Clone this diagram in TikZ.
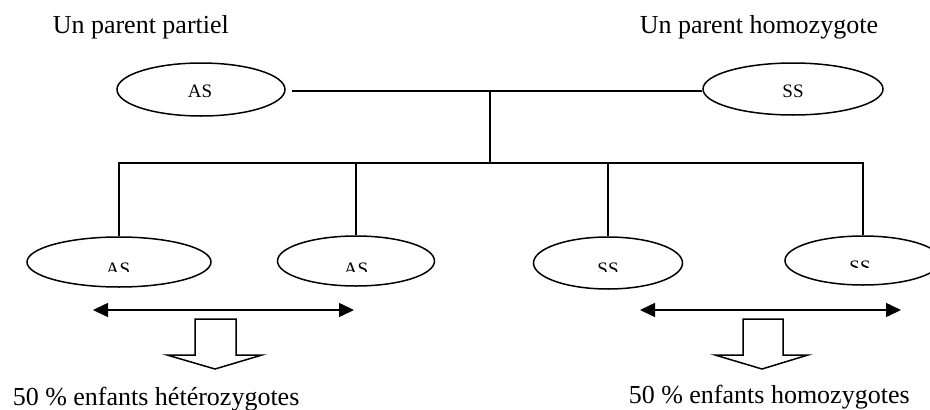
\documentclass[tikz,border=0pt]{standalone}
\usepackage{fontspec}
\setmainfont{Liberation Serif}
\usetikzlibrary{shapes.geometric,arrows.meta}

\begin{document}
\begin{tikzpicture}[x=1pt,y=-1pt,
  line width=1.5pt,
  geno/.style={draw,ellipse,inner sep=0pt,line width=1.5pt},
  genotxt/.style={inner sep=0pt,anchor=base,font=\fontsize{19}{22}\selectfont},
  caption/.style={inner sep=0pt,anchor=base west,font=\fontsize{26}{30}\selectfont},
  link/.style={line width=1.5pt},
  span/.style={line width=1.5pt,{Triangle[length=15pt,width=14pt]}-{Triangle[length=15pt,width=14pt]}},
  blockarrow/.style={line width=1.5pt,line join=miter}
]
\useasboundingbox (0,0) rectangle (930,410);

% titles
\node[caption] (tl) at (52,33) {Un parent partiel};
\node[caption] (tr) at (639,33) {Un parent homozygote};

% parents
\node[geno,minimum width=168pt,minimum height=53pt] (pA) at (201,89.5) {};
\node[geno,minimum width=180pt,minimum height=52pt] (pS) at (793,89) {};
\node[genotxt] (pAt) at (200,97) {AS};
\node[genotxt] (pSt) at (793,97) {SS};

% children
\node[geno,minimum width=184pt,minimum height=50pt] (c1) at (119,262) {};
\node[geno,minimum width=157pt,minimum height=50pt] (c2) at (356,261) {};
\node[geno,minimum width=149pt,minimum height=52pt] (c3) at (608,263) {};
\node[geno,minimum width=156pt,minimum height=49pt] (c4) at (863,260.5) {};

% child labels, cut off halfway down
\begin{scope}
  \clip (60,250) rectangle (420,271);
  \node[genotxt] (c1t) at (118,275) {AS};
  \node[genotxt] (c2t) at (356,275) {AS};
\end{scope}
\begin{scope}
  \clip (560,250) rectangle (660,271);
  \node[genotxt] (c3t) at (608,275) {SS};
\end{scope}
\begin{scope}
  \clip (800,250) rectangle (920,267.5);
  \node[genotxt] (c4t) at (860,273) {SS};
\end{scope}

% family tree
\coordinate (j1) at (490,91);
\coordinate (j2) at (490,163);
\draw[link] (292,91) coordinate (pAe) -- (pS.west |- pAe);
\draw[link] (j1) -- (j2);
\draw[link] (c1.north) |- (c4.north |- j2) -- (c4.north);
\draw[link] (c2.north) -- (c2.north |- j2);
\draw[link] (c3.north) -- (c3.north |- j2);

% spans
\coordinate (s1a) at (93,310);
\coordinate (s1b) at (354,310);
\coordinate (s2a) at (640,310);
\coordinate (s2b) at (901,310);
\draw[span] (s1a) -- (s1b);
\draw[span] (s2a) -- (s2b);

% block arrows
\draw[blockarrow] (195,319) -- (236,319) -- (236,355) -- (262,355) -- (215,369)
  -- (167,355) -- (195,355) -- cycle;
\draw[blockarrow] (743,319) -- (783,319) -- (783,355) -- (808,355) -- (762,369)
  -- (715,355) -- (743,355) -- cycle;

% results
\node[caption] (rl) at (12,405) {50 \% enfants hétérozygotes};
\node[caption] (rr) at (628,403) {50 \% enfants homozygotes};
\end{tikzpicture}
\end{document}
